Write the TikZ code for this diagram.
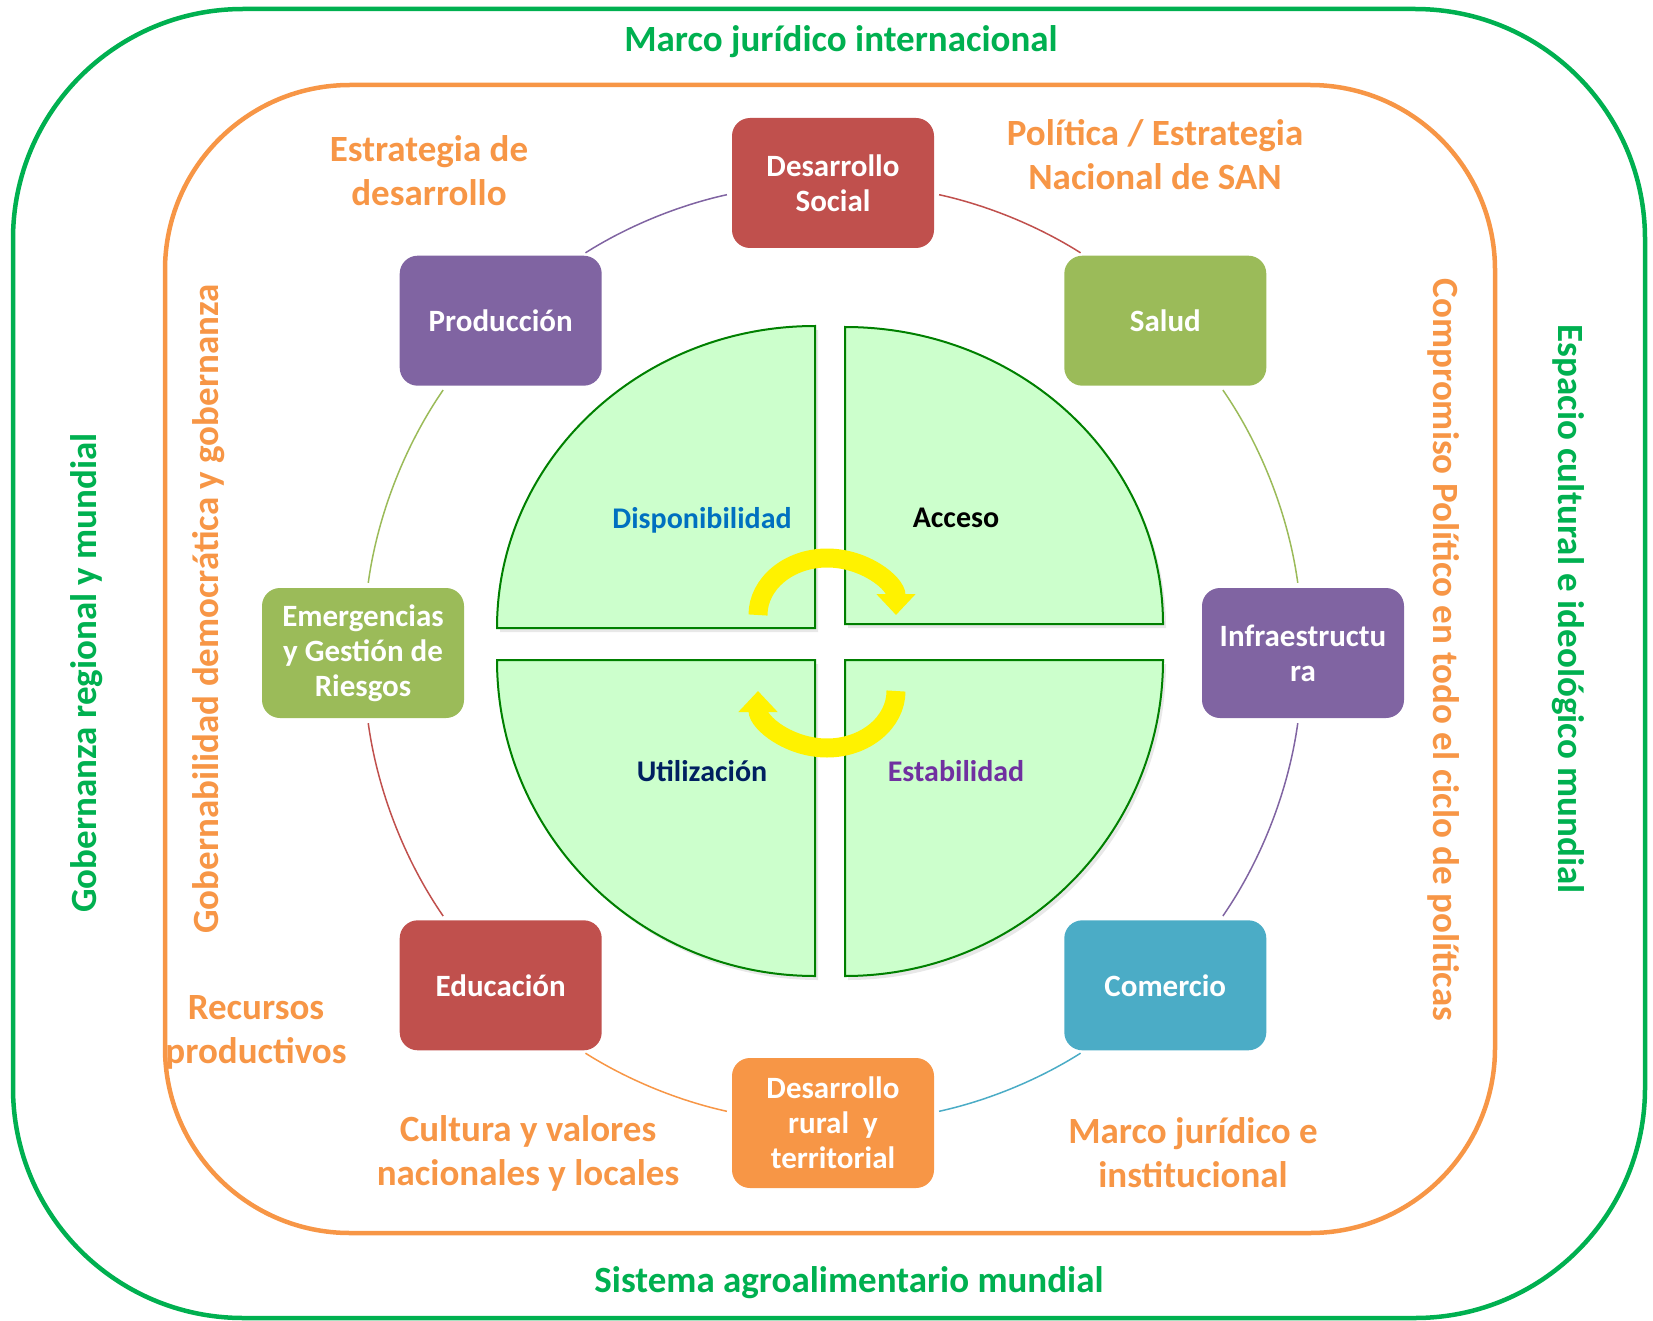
\documentclass[tikz,border=0pt]{standalone}
\usepackage{fontspec}
\setmainfont{Carlito}
\usetikzlibrary{arrows.meta,shadows}
\definecolor{outergreen}{HTML}{00B050}
\definecolor{orangeline}{HTML}{F79646}
\definecolor{nred}{HTML}{C0504D}
\definecolor{npurple}{HTML}{8064A2}
\definecolor{ngreen}{HTML}{9BBB59}
\definecolor{nteal}{HTML}{4BACC6}
\definecolor{norange}{HTML}{F79646}
\definecolor{qfill}{HTML}{CCFFCC}
\definecolor{qline}{HTML}{008000}
\definecolor{lblue}{HTML}{0070C0}
\definecolor{lnavy}{HTML}{002060}
\definecolor{lpurple}{HTML}{7030A0}
\begin{document}
\begin{tikzpicture}[x=1pt,y=1pt,
  box/.style={rounded corners=18pt, minimum width=202pt, minimum height=130pt, text=white, align=center, font=\bfseries\fontsize{31}{35}\selectfont, inner sep=4pt},
  big/.style={font=\bfseries\fontsize{37}{44}\selectfont, align=center},
  glab/.style={big, text=outergreen},
  olab/.style={big, text=orangeline},
  qlab/.style={font=\bfseries\fontsize{30}{36}\selectfont},
  quad/.style={fill=qfill, draw=qline, line width=2pt, drop shadow={opacity=0.18, shadow xshift=3pt, shadow yshift=-4pt}},
  link/.style={line width=1.5pt, shorten <=5pt, shorten >=5pt},
  shortarc/.style={link, bend left=10, looseness=0.86},
  longarc/.style={link, bend left=13.4, looseness=0.86},
  yarrow/.style={draw=yellow, line width=19pt, -{Triangle[width=38pt, length=21pt]}}
]
\useasboundingbox (0,0) rectangle (1653,-1321);
% frames
\draw[outergreen, line width=4.5pt, rounded corners=230pt] (13,-9) rectangle (1645,-1318);
\draw[orangeline, line width=4.5pt, rounded corners=185pt] (165,-85) rectangle (1495,-1233);
% frame labels
\node[glab] (mji) at (841,-42) {Marco jurídico internacional};
\node[glab] (sam) at (849,-1283) {Sistema agroalimentario mundial};
\node[glab, rotate=90] (grm) at (87,-673) {Gobernanza regional y mundial};
\node[glab, rotate=-90] (ecm) at (1568,-609) {Espacio cultural e ideológico mundial};
\node[olab, rotate=90] (gdg) at (209,-609) {Gobernabilidad democrática y gobernanza};
\node[olab, rotate=-90] (cpc) at (1444,-650) {Compromiso Político en todo el ciclo de políticas};
\node[olab] (edd) at (429,-171) {Estrategia de\\desarrollo};
\node[olab] (pen) at (1155,-155) {Política / Estrategia\\Nacional de SAN};
\node[olab] (rp) at (256,-1032) {Recursos\\productivos};
\node[olab] (cvn) at (528,-1153) {Cultura y valores\\nacionales y locales};
\node[olab] (mjii) at (1193,-1153) {Marco jurídico e\\institucional};
% quadrants
\path[quad] (815,-628) -- (497,-628) arc[start angle=180, end angle=90, x radius=318, y radius=302] -- cycle;
\path[quad] (845,-624) -- (845,-327) arc[start angle=90, end angle=0, x radius=318, y radius=297] -- cycle;
\path[quad] (815,-660) -- (497,-660) arc[start angle=180, end angle=270, x radius=318, y radius=316] -- cycle;
\path[quad] (845,-660) -- (1163,-660) arc[start angle=0, end angle=-90, x radius=318, y radius=316] -- cycle;
\node[qlab, text=lblue] (disp) at (702,-520) {Disponibilidad};
\node[qlab, text=black] (acc) at (956,-518) {Acceso};
\node[qlab, text=lnavy] (util) at (702,-771) {Utilización};
\node[qlab, text=lpurple] (estab) at (956,-771) {Estabilidad};
% yellow cycle arrows
\draw[yarrow] (758,-615) arc[start angle=180, end angle=0, x radius=69, y radius=57];
\draw[yarrow] (896,-691) arc[start angle=0, end angle=-180, x radius=69, y radius=57];
% boxes
\node[box, fill=nred] (ds) at (833,-183) {Desarrollo\\Social};
\node[box, fill=ngreen] (salud) at (1165.3,-320.7) {Salud};
\node[box, fill=npurple] (infra) at (1303,-653) {Infraestructu\\ra};
\node[box, fill=nteal] (com) at (1165.3,-985.3) {Comercio};
\node[box, fill=norange] (rural) at (833,-1123) {Desarrollo\\rural\ \ y\\territorial};
\node[box, fill=nred] (edu) at (500.7,-985.3) {Educación};
\node[box, fill=ngreen] (emerg) at (363,-653) {Emergencias\\y Gestión de\\Riesgos};
\node[box, fill=npurple] (prod) at (500.7,-320.7) {Producción};
% ring links
\draw[shortarc, draw=nred] (ds.-6) to (salud.141);
\draw[longarc, draw=ngreen] (salud.-50) to (infra.94);
\draw[longarc, draw=npurple] (infra.-94) to (com.50);
\draw[shortarc, draw=nteal] (com.-141) to (rural.6);
\draw[shortarc, draw=norange] (rural.174) to (edu.-39);
\draw[longarc, draw=nred] (edu.130) to (emerg.-86);
\draw[longarc, draw=ngreen] (emerg.86) to (prod.-130);
\draw[shortarc, draw=npurple] (prod.39) to (ds.186);
\end{tikzpicture}
\end{document}
